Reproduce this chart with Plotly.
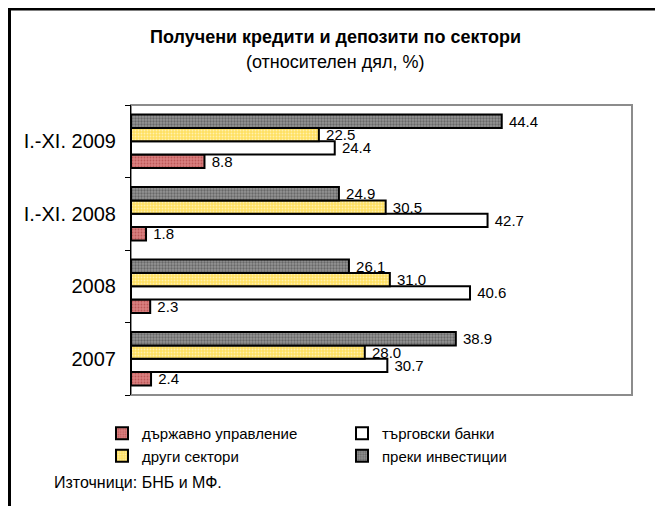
import plotly.graph_objects as go

categories = ["2007", "2008", "I.-XI. 2008", "I.-XI. 2009"]
series_names = ["държавно управление", "търговски банки", "други сектори", "преки инвестиции"]
gov = [2.4, 2.3, 1.8, 8.8]
banks = [30.7, 40.6, 42.7, 24.4]
other = [28.0, 31.0, 30.5, 22.5]
fdi = [38.9, 26.1, 24.9, 44.4]

title = "<b>Получени кредити и депозити по сектори</b>"
subtitle = "(относителен дял, %)"
source = "Източници: БНБ и МФ."

FONT = "Arial, Liberation Sans, sans-serif"

styles = [
    dict(color="#d98080", pattern=dict(shape=".", fgcolor="#a03030", size=3, solidity=0.3, fillmode="overlay"), legend="legend"),
    dict(color="#ffffff", pattern=None, legend="legend2"),
    dict(color="#ffe060", pattern=dict(shape=".", fgcolor="#ffffff", size=3, solidity=0.3, fillmode="overlay"), legend="legend"),
    dict(color="#959595", pattern=dict(shape=".", fgcolor="#3a3a3a", size=3, solidity=0.45, fillmode="overlay"), legend="legend2"),
]

fig = go.Figure()
for name, vals, st in zip(series_names, [gov, banks, other, fdi], styles):
    marker = dict(color=st["color"], line=dict(color="black", width=2))
    if st["pattern"]:
        marker["pattern"] = st["pattern"]
    fig.add_trace(go.Bar(
        y=categories, x=vals, name=name, orientation="h",
        marker=marker,
        text=["\u00a0" + f"{v:.1f}" for v in vals], textposition="outside",
        constraintext="none",
        textfont=dict(family=FONT, size=15, color="black"),
        cliponaxis=False, legend=st["legend"],
    ))

# page is offset by the 8px body margin; work in figure coordinates
OFF = 8
W, H = 663 - OFF, 506 - OFF
L, T = 131 - OFF, 105 - OFF
R = W - (632 - OFF)
B = H - (395 - OFF)
pw, ph = W - L - R, H - T - B

def px(x):
    return (x - OFF - L) / pw

def py(y):
    return (H - B - (y - OFF)) / ph

fig.update_layout(
    width=W, height=H,
    margin=dict(l=L, r=R, t=T, b=B),
    paper_bgcolor="white", plot_bgcolor="white",
    barmode="group", bargap=0.265, bargroupgap=0,
    font=dict(family=FONT, size=15, color="black"),
    showlegend=True,
    legend=dict(x=px(102), y=py(417), xanchor="left", yanchor="top",
                orientation="v", font=dict(size=15), tracegroupgap=0,
                itemwidth=30, bgcolor="rgba(0,0,0,0)"),
    legend2=dict(x=px(342), y=py(417), xanchor="left", yanchor="top",
                 orientation="v", font=dict(size=15), tracegroupgap=0,
                 itemwidth=30, bgcolor="rgba(0,0,0,0)"),
    xaxis=dict(range=[0, 60], showticklabels=False, showgrid=False, zeroline=False,
               showline=False, ticks=""),
    yaxis=dict(type="category", categoryorder="array", categoryarray=categories,
               showline=True, linecolor="black", linewidth=1,
               ticks="outside", tickson="boundaries", ticklen=5, tickcolor="black",
               showgrid=False, tickfont=dict(size=20), ticklabelstandoff=10),
    annotations=[
        dict(text=title, x=px(335), y=py(37), xref="paper", yref="paper",
             showarrow=False, xanchor="center", yanchor="middle",
             font=dict(size=18)),
        dict(text=subtitle, x=px(335), y=py(62), xref="paper", yref="paper",
             showarrow=False, xanchor="center", yanchor="middle",
             font=dict(size=18)),
        dict(text=source, x=px(52), y=py(482), xref="paper", yref="paper",
             showarrow=False, xanchor="left", yanchor="middle",
             font=dict(size=16)),
    ],
    shapes=[
        dict(type="rect", xref="paper", yref="paper", x0=0, x1=1, y0=0, y1=1,
             line=dict(color="#8c8c8c", width=2), layer="below"),
        dict(type="rect", xref="paper", yref="paper",
             x0=px(9.5), x1=px(661), y0=py(540), y1=py(9),
             line=dict(color="black", width=3), layer="below"),
    ],
)

fig.write_html("out.html")
